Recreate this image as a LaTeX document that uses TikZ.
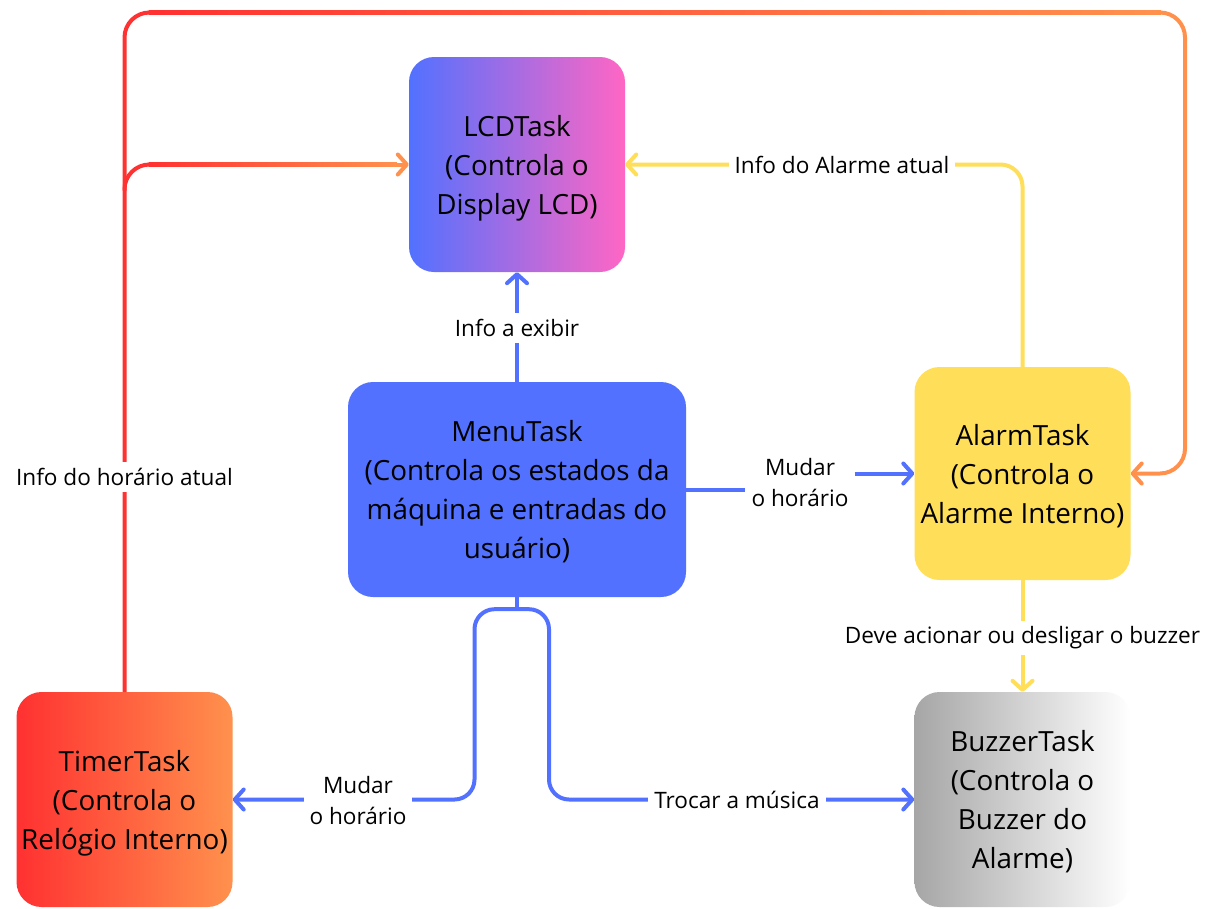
\documentclass[tikz,border=0pt]{standalone}
\usepackage{fontspec}
\setmainfont{Open Sans}
\usetikzlibrary{arrows.meta,calc}
\definecolor{menublue}{HTML}{5271FF}
\definecolor{lcdpink}{HTML}{FF66C4}
\definecolor{timerred}{HTML}{FF3131}
\definecolor{timerorange}{HTML}{FF914D}
\definecolor{alarmyellow}{HTML}{FFDE59}
\definecolor{buzzgray}{HTML}{A6A6A6}

\begin{document}
\begin{tikzpicture}[x=1pt,y=-1pt,
  task/.style={rectangle,rounded corners=25pt,minimum width=216pt,minimum height=215pt,
    inner sep=0pt,text depth=0pt,align=center,font=\fontsize{27.8}{39}\selectfont},
  lbl/.style={fill=white,inner sep=6pt,align=center,font=\fontsize{22.6}{31}\selectfont},
  wire/.style={line width=4pt},
  conn/.style={line width=4pt,-{Straight Barb[length=9pt,width=20pt,round]}}]
  \useasboundingbox (0,0) rectangle (1217,908);

  \node[task,left color=menublue,right color=lcdpink] (lcd) at (517,164.5) {LCDTask\\(Controla o\\Display LCD)};
  \node[task,fill=menublue,minimum width=338pt] (menu) at (517,489.5) {MenuTask\\(Controla os estados da\\máquina e entradas do\\usuário)};
  \node[task,fill=alarmyellow,minimum height=213pt] (alarm) at (1022.5,473.5) {AlarmTask\\(Controla o\\Alarme Interno)};
  \node[task,left color=timerred,right color=timerorange] (timer) at (124.5,799.5) {TimerTask\\(Controla o\\Relógio Interno)};
  \node[task,left color=buzzgray,right color=white] (buzzer) at (1022.5,799.5) {BuzzerTask\\(Controla o\\Buzzer do\\Alarme)};

  % timer -> alarm, over the top
  \coordinate (rr) at (1185,12.5);
  \draw[wire,timerred,rounded corners=25pt] (timer.north) |- ($(timer.north |- rr)+(25,0)$);
  \shade[left color=timerred,right color=timerorange] ($(timer.north |- rr)+(24,-2)$) rectangle ($(rr)+(-24,2)$);
  \draw[conn,timerorange,rounded corners=25pt] ($(rr)+(-25,0)$) -| (alarm.east -| rr) -- (alarm.east);
  % timer -> lcd
  \draw[wire,timerred,rounded corners=25pt] ($(timer.north |- lcd.west)+(0,26)$) |- ($(timer.north |- lcd.west)+(25,0)$);
  \shade[left color=timerred,right color=timerorange] ($(timer.north |- lcd.west)+(24,-2)$) rectangle ($(lcd.west)+(-12,2)$);
  \draw[conn,timerorange] ($(lcd.west)+(-13,0)$) -- (lcd.west);
  \node[lbl] (ltime) at (124.5,477) {Info do horário atual};

  % alarm -> lcd
  \draw[conn,alarmyellow,rounded corners=22pt] (alarm.north) |- (lcd.east);
  \node[lbl] (lalarm) at (842,164.5) {Info do Alarme atual};

  % menu -> lcd
  \draw[conn,menublue] (menu.north) -- (lcd.south);
  \node[lbl] (lshow) at (517,328) {Info a exibir};

  % menu -> alarm
  \node[lbl] (lset1) at (800,483) {Mudar\\o horário};
  \draw[wire,menublue] (menu.east) -- (lset1.west |- menu.east);
  \draw[conn,menublue] (lset1.east |- alarm.west) -- (alarm.west);

  % alarm -> buzzer
  \draw[conn,alarmyellow] (alarm.south) -- (buzzer.north);
  \node[lbl] (lbuzz) at (1022.5,638) {Deve acionar ou desligar o buzzer};

  % menu -> timer / buzzer
  \coordinate (split) at ($(menu.south)+(0,12)$);
  \coordinate (lbend) at (474.5,799.5);
  \coordinate (rbend) at (549,799.5);
  \draw[wire,menublue] (menu.south) -- (split);
  \draw[conn,menublue,rounded corners=20pt] (split) -| (lbend) -- (timer.east);
  \draw[conn,menublue,rounded corners=20pt] (split) -| (rbend) -- (buzzer.west);
  \node[lbl] (lset2) at (358,801) {Mudar\\o horário};
  \node[lbl] (lsong) at (737,800) {Trocar a música};
\end{tikzpicture}
\end{document}
